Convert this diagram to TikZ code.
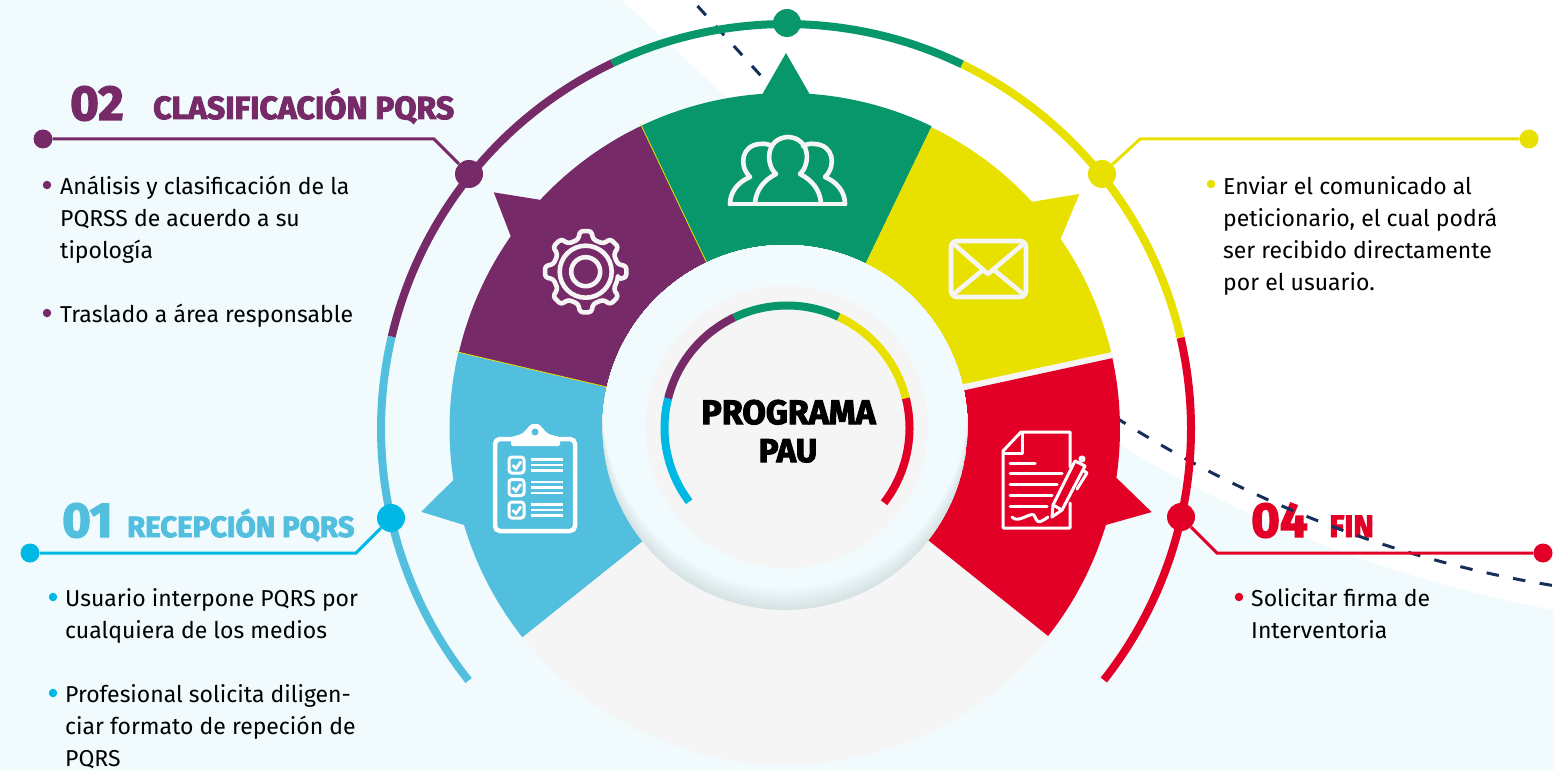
\documentclass[tikz,border=0pt]{standalone}
\usepackage{fontspec}
\usepackage{graphicx}
\setmainfont{Fira Sans}
\newfontfamily\hvbase{Fira Sans}[BoldFeatures={FakeBold=3}]
\newcommand\hv{\hvbase\bfseries}
\definecolor{cbg}{HTML}{F1FAFD}
\definecolor{cgrey}{HTML}{F5F5F5}
\definecolor{cshade}{HTML}{D6E2E4}
\definecolor{cgreen}{HTML}{08976A}
\definecolor{cpurple}{HTML}{762A68}
\definecolor{cyellow}{HTML}{E8E100}
\definecolor{cred}{HTML}{E30027}
\definecolor{cblue}{HTML}{53BFDF}
\definecolor{ccyan}{HTML}{00B8E4}
\definecolor{cnavy}{HTML}{14305A}
\tikzset{
  body/.style={anchor=north west,inner sep=0pt,align=left,text=black,font=\fontsize{23}{32}\selectfont},
  bul/.style={circle,fill=#1,inner sep=0pt,minimum size=8.5pt},
  enddot/.style={circle,fill=#1,inner sep=0pt,minimum size=19pt},
  bigdot/.style={circle,fill=#1,inner sep=0pt,minimum size=28pt},
  lead/.style={draw=#1,line width=3pt},
  ring/.style={draw=#1,line width=8pt},
  smallring/.style={draw=#1,line width=8pt},
  icon/.style={draw=cgrey,line width=4.6pt,line join=round,line cap=round},
  iconw/.style={draw=white,line width=3pt,line join=round,line cap=round},
  dashline/.style={draw=cnavy,line width=3pt,dash pattern=on 12.5pt off 14.5pt},
  headnum/.style={inner sep=0pt,anchor=base west,font=\hv\fontsize{49}{49}\selectfont,text=#1},
  headtxt/.style 2 args={inner sep=0pt,anchor=base west,font=\hv\fontsize{#2}{#2}\selectfont,text=#1},
}
\begin{document}
\begin{tikzpicture}[x=1pt,y=-1pt]
\useasboundingbox (0,0) rectangle (1554,770);
\fill[cbg] (0,0) rectangle (1554,770);
\fill[white] (622,0) -- (725,96) .. controls (860,225) and (1000,375) .. (1120,445)
  .. controls (1230,512) and (1380,578) .. (1554,610) -- (1554,0) -- cycle;
% headings
\node[headnum=cpurple] (n2) at (70,120) {02};
\node[headtxt={cpurple}{32}] (h2) at (153,119) {CLASIFICACIÓN PQRS};
\node[headnum=cblue] (n1) at (62,537) {01};
\node[headtxt={cblue}{29.3}] (h1) at (127,537) {RECEPCIÓN PQRS};
\node[headnum=cred] (n4) at (1251,537) {04};
\node[headtxt={cred}{31}] (h4) at (1329,537) {FIN};
% dashed curve
\coordinate (da) at (697.5,6); \coordinate (db) at (762,77);
\coordinate (dc) at (1115,417); \coordinate (dd) at (1556,586);
\draw[dashline] (da) -- (db);
\draw[dashline] (dc) .. controls (1240,497) and (1390,560) .. (dd);
% centre polar scope
\begin{scope}[shift={(786,429)},y=1pt]
  % grey bottom and gap
  \fill[cgrey] (218:170) -- (218:335.5) arc[start angle=218,end angle=322,radius=335.5] -- (322:170) -- cycle;
  \fill[cgrey] (12:170) -- (12:335) arc[start angle=12,end angle=15,radius=335] -- (15:170) -- cycle;
  % outer arcs
  \draw[ring=cblue] (218.4:405) arc[start angle=218.4,end angle=166.8,radius=405];
  \draw[ring=cpurple] (166.8:405) arc[start angle=166.8,end angle=115.4,radius=405];
  \draw[ring=cgreen] (115.4:405) arc[start angle=115.4,end angle=64.2,radius=405];
  \draw[ring=cyellow] (64.2:405) arc[start angle=64.2,end angle=13,radius=405];
  \draw[ring=cred] (13:405) arc[start angle=13,end angle=-38.3,radius=405];
  % wedges
  \fill[cblue] (166.8:175) -- (166.8:336.5) arc[start angle=166.8,end angle=188.7,radius=336.5]
     -- (192.8:374) -- (196.6:336) arc[start angle=196.6,end angle=218.3,radius=336] -- (218:175) -- cycle;
  \fill[cpurple] (115.5:175) -- (115.5:336) arc[start angle=115.5,end angle=137,radius=336]
     -- (141:376) -- (145:336) arc[start angle=145,end angle=166.8,radius=336] -- (166.8:175) -- cycle;
  \fill[cgreen] (64.3:175) -- (64.3:336) arc[start angle=64.3,end angle=86,radius=336]
     -- (90:376) -- (94:336) arc[start angle=94,end angle=115.5,radius=336] -- (115.5:175) -- cycle;
  \fill[cyellow] (14.3:175) -- (13.3:334) arc[start angle=13.3,end angle=34.7,radius=334]
     -- (38.7:376) -- (42.7:335) arc[start angle=42.7,end angle=64.3,radius=335] -- (64.3:175) -- cycle;
  \fill[cred] (12.25:175) -- (12.25:334) arc[start angle=12.25,end angle=-8.4,radius=334]
     -- (-12.8:375) -- (-16.7:334) arc[start angle=-16.7,end angle=-38.3,radius=334] -- (-38:175) -- cycle;
  % hairlines
  \draw[cyellow,line width=0.8pt] (115.5:182) -- (115.5:338);
  \draw[cyellow,line width=0.8pt] (166.8:181) -- (166.8:339);
  % inner disc with shading inside its lower rim
  \begin{scope}
    \clip (-1,1.5) circle[radius=182.5];
    \fill[cshade] (-1,1.5) circle[radius=183];
    \foreach \i in {1,...,22}{
      \pgfmathsetmacro\pp{100*\i/22}
      \fill[cbg!\pp!cshade] (-1,{1.5+\i}) circle[radius=182.5];
    }
  \end{scope}
  \fill[cgrey] (0.5,2) circle[radius=141];
  \begin{scope}[shift={(1,1)}]
    \draw[smallring=ccyan] (217:122.5) arc[start angle=217,end angle=166,radius=122.5];
    \draw[smallring=cpurple] (166:122.5) arc[start angle=166,end angle=115.5,radius=122.5];
    \draw[smallring=cgreen] (115.5:122.5) arc[start angle=115.5,end angle=65,radius=122.5];
    \draw[smallring=cyellow] (65:122.5) arc[start angle=65,end angle=14,radius=122.5];
    \draw[smallring=cred] (14:122.5) arc[start angle=14,end angle=-37.6,radius=122.5];
  \end{scope}
\end{scope}
% centre label
\node[inner sep=0pt,anchor=base,font=\hv\fontsize{34}{34}\selectfont] (c1) at (788.5,424) {PROGRAMA};
\node[inner sep=0pt,anchor=base,font=\hv\fontsize{33}{33}\selectfont] (c2) at (788,462) {PAU};
% people icon
\draw[icon] (730,204) -- (845,204);
\draw[icon] (755,203) .. controls (756,190) and (764,180) .. (776,174)
  .. controls (765,164) and (766,138) .. (788,137) .. controls (810,138) and (811,164) .. (800,174)
  .. controls (812,180) and (820,190) .. (821,203);
\draw[icon] (730,204) .. controls (730,192) and (738,182) .. (750,177)
  .. controls (738,165) and (742,145) .. (760,144) .. controls (765,143) and (770,145) .. (772,146);
\draw[icon] (845,204) .. controls (845,192) and (837,182) .. (825,177)
  .. controls (837,165) and (833,145) .. (815,144) .. controls (810,143) and (805,145) .. (803,146);
% gear
\begin{scope}[shift={(585.7,271.7)},y=1pt]
  \draw[icon,rounded corners=3pt] (-13:33)
   \foreach \a in {0,45,...,315}{ -- ({\a-13}:33) -- ({\a-8}:41) -- ({\a+8}:41) -- ({\a+13}:33) } -- cycle;
  \draw[icon] (0,0) circle[radius=26];
  \draw[icon] (0,0) circle[radius=14.5];
\end{scope}
% envelope
\draw[icon,rounded corners=6pt] (951,241) rectangle (1026,297);
\draw[icon] (955,245) -- (988,274) -- (1022,245);
\draw[icon] (955,293) -- (983,270);
\draw[icon] (1022,293) -- (994,270);
% document
\draw[iconw] (1070,467) -- (1070,432) -- (1021,432) -- (1003,451) -- (1003,528) -- (1070,528) -- (1070,503);
\draw[iconw] (1022,433) -- (1022,453) -- (1003,453);
\draw[iconw] (1010,463) -- (1035,463);
\draw[iconw] (1010,473) -- (1062,473);
\draw[iconw] (1010,484) -- (1057,484);
\draw[iconw] (1010,495) -- (1052,495);
\draw[iconw] (1010,506) -- (1047,506);
\draw[iconw] (1012,517) .. controls (1018,524) and (1030,512) .. (1034,515) .. controls (1037,520) and (1036,526) .. (1048,517);
\draw[iconw] (1052,517) -- (1053,505) -- (1075,461) -- (1085,466) -- (1062,510) -- cycle;
\draw[iconw] (1053,505) -- (1062,510);
\draw[iconw] (1077,489) -- (1087,473) -- (1084,471);
\draw[iconw] (1082,459) circle[radius=2];
% clipboard
\draw[white,line width=4.5pt,rounded corners=5pt] (495,439) rectangle (575,531);
\fill[white,rounded corners=2pt] (511,446) -- (511,437) -- (522,434) .. controls (528,428) and (530,424) .. (535,424)
  .. controls (540,424) and (542,428) .. (548,434) -- (560,437) -- (560,446) -- cycle;
\fill[cblue] (535,432) circle[radius=3.5];
\foreach \yy in {457,479.5,502}{
  \draw[white,line width=3pt,rounded corners=3pt] (509,\yy) rectangle (524,\yy+16);
  \draw[white,line width=2.8pt] (512.5,\yy+8) -- (516,\yy+11.5) -- (521,\yy+4.5);
  \draw[white,line width=2.5pt] (531,\yy+2.3) -- (563,\yy+2.3);
  \draw[white,line width=2.5pt] (531,\yy+8) -- (563,\yy+8);
  \draw[white,line width=2.5pt] (531,\yy+13.5) -- (563,\yy+13.5);
}
% dots and leads
\node[bigdot=cgreen] (top) at (787,23) {};
\node[enddot=cpurple] (e2) at (43,139) {};
\node[bigdot=cpurple] (d2) at (469,174) {};
\coordinate (b2) at (434,139);
\draw[lead=cpurple] (e2) -- (b2) -- (d2);
\node[enddot=cyellow] (e3) at (1529,139) {};
\node[bigdot=cyellow] (d3) at (1102,174) {};
\coordinate (b3) at (1140,139);
\draw[lead=cyellow] (e3) -- (b3) -- (d3);
\node[enddot=ccyan] (e1) at (30,553) {};
\node[bigdot=ccyan] (d1) at (391,518) {};
\coordinate (b1) at (356,553);
\draw[lead=ccyan] (e1) -- (b1) -- (d1);
\node[enddot=cred] (e4) at (1543,553) {};
\node[bigdot=cred] (d4) at (1181,517) {};
\coordinate (b4) at (1217,553);
\draw[lead=cred] (e4) -- (b4) -- (d4);
% bullets and texts
\node[bul=cpurple] (b2a) at (47,185) {};
\node[body] (t2a) at (60,176) {Análisis y clasificación de la\\PQRSS de acuerdo a su\\tipología};
\node[bul=cpurple] (b2b) at (47,313) {};
\node[body] (t2b) at (60,304) {Traslado a área responsable};
\node[bul=cyellow] (b3a) at (1211,184) {};
\node[body] (t3a) at (1223,176) {Enviar el comunicado al\\peticionario, el cual podrá\\ser recibido directamente\\por el usuario.};
\node[bul=ccyan] (b1a) at (53,597) {};
\node[body] (t1a) at (65,588) {Usuario interpone PQRS por\\cualquiera de los medios};
\node[bul=ccyan] (b1b) at (53,693) {};
\node[body] (t1b) at (65,684) {Profesional solicita diligen-\\ciar formato de repeción de\\PQRS};
\node[bul=cred] (b4a) at (1239,597) {};
\node[body] (t4a) at (1251,588) {Solicitar firma de\\Interventoria};
\end{tikzpicture}
\end{document}
